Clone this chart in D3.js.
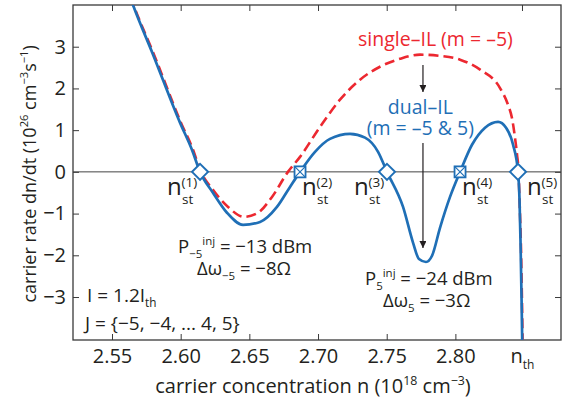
<!DOCTYPE html>
<html>
<head>
<meta charset="utf-8">
<script src="https://cdn.jsdelivr.net/npm/d3@7"></script>
<style>
  body { margin: 0; background: #fff; }
  text { font-family: "Open Sans", sans-serif; fill: #231f20; }
</style>
</head>
<body>
<div class="chart"></div>
<script>
// data
let dualN = [2.5631, 2.5653, 2.5799, 2.5995, 2.6082, 2.6141, 2.6235, 2.6337, 2.6454, 2.6578,
  2.6701, 2.6796, 2.6869, 2.6978, 2.7087, 2.7233, 2.7342, 2.7437, 2.7502, 2.7619, 2.7692,
  2.7735, 2.7786, 2.7830, 2.7888, 2.7961, 2.8034, 2.8121, 2.8216, 2.8311, 2.8369, 2.8420,
  2.8456, 2.8467, 2.8474, 2.8482, 2.8487];
let dualRate = [4.2, 4.0, 2.81, 1.18, 0.53, 0, -0.50, -0.98, -1.27, -1.20,
  -0.84, -0.36, 0, 0.48, 0.79, 0.91, 0.82, 0.48, 0, -0.84, -1.70,
  -2.09, -2.16, -2.01, -1.34, -0.60, 0, 0.65, 1.06, 1.20, 1.06, 0.65,
  0, -0.67, -1.63, -3.07, -4.15];

let singleN = [2.5635, 2.5657, 2.5806, 2.6002, 2.6090, 2.6141, 2.6235, 2.6345, 2.6461, 2.6563,
  2.6665, 2.6781, 2.6869, 2.7015, 2.7160, 2.7306, 2.7451, 2.7597, 2.7743, 2.7888, 2.8034,
  2.8180, 2.8325, 2.8383, 2.8412, 2.8434, 2.8449, 2.8460, 2.8467, 2.8478, 2.8490];
let singleRate = [4.2, 4.0, 2.81, 1.18, 0.53, 0.05, -0.43, -0.84, -1.08, -0.98,
  -0.60, 0, 0.36, 1.08, 1.73, 2.21, 2.52, 2.71, 2.81, 2.78, 2.69,
  2.45, 2.01, 1.61, 1.29, 0.82, 0.41, 0, -0.67, -1.87, -4.15];

let stableN = [2.6141, 2.6869, 2.7502, 2.8034, 2.8456];
let stableKind = ["diamond", "square", "diamond", "square", "diamond"];
let stableSup = ["(1)", "(2)", "(3)", "(4)", "(5)"];

let xTicks = [2.55, 2.60, 2.65, 2.70, 2.75, 2.80];
let nTh = 2.8485;
let yTicks = [-3, -2, -1, 0, 1, 2, 3];

let blue = "#1f6fb6";
let red = "#ec2830";

let svgWidth = 569;
let svgHeight = 406;
let margin = { top: 5, right: 8, bottom: 66, left: 73 };
let width = svgWidth - margin.left - margin.right;
let height = svgHeight - margin.top - margin.bottom;

let svg = d3.select(".chart")
  .append("svg")
  .attr("width", svgWidth)
  .attr("height", svgHeight);

let chartGroup = svg.append("g")
  .attr("transform", `translate(${margin.left}, ${margin.top})`);

let x = d3.scaleLinear().domain([2.5216, 2.8769]).range([0, width]);
let y = d3.scaleLinear().domain([-4.03, 4.0]).range([height, 0]);

// text with sub/superscripts: parts = [[text, kind]], kind 1 = sup, -1 = sub
function rich(sel, size, parts) {
  let cur = 0;
  parts.forEach(([t, k]) => {
    let off = k === 1 ? -0.42 * size : k === -1 ? 0.28 * size : 0;
    let ts = sel.append("tspan").text(t).attr("dy", off - cur);
    if (k) ts.attr("font-size", size * 0.62);
    cur = off;
  });
  return sel;
}

chartGroup.append("clipPath").attr("id", "plotclip")
  .append("rect").attr("width", width).attr("height", height);

// axes (ticks pointing inside)
let bottomAxis = d3.axisBottom(x).tickValues(xTicks.concat([nTh]))
  .tickSizeInner(-6).tickSizeOuter(0).tickPadding(9)
  .tickFormat(d => d === nTh ? "n" : d3.format(".2f")(d));
let topAxis = d3.axisTop(x).tickValues(xTicks.concat([nTh]))
  .tickSizeInner(-6).tickSizeOuter(0).tickFormat("");
let leftAxis = d3.axisLeft(y).tickValues(yTicks)
  .tickSizeInner(-6).tickSizeOuter(0).tickPadding(7);
let rightAxis = d3.axisRight(y).tickValues(yTicks)
  .tickSizeInner(-6).tickSizeOuter(0).tickFormat("");

let gx = chartGroup.append("g").attr("transform", `translate(0, ${height})`).call(bottomAxis);
chartGroup.append("g").call(topAxis);
let gy = chartGroup.append("g").call(leftAxis);
chartGroup.append("g").attr("transform", `translate(${width}, 0)`).call(rightAxis);

chartGroup.selectAll(".domain").remove();
chartGroup.selectAll(".tick line").attr("stroke", "#3a3a3a").attr("stroke-width", 1);
chartGroup.selectAll(".tick text").attr("font-size", 20).attr("fill", "#231f20")
  .attr("font-family", "Open Sans");
gx.selectAll(".tick text").filter(d => d === nTh)
  .append("tspan").attr("font-size", 12).attr("dy", 6).text("th");

// frame and zero line
chartGroup.append("rect").attr("width", width).attr("height", height)
  .attr("fill", "none").attr("stroke", "#3a3a3a").attr("stroke-width", 1.3);
chartGroup.append("line")
  .attr("x1", 0).attr("x2", width).attr("y1", y(0)).attr("y2", y(0))
  .attr("stroke", "#444").attr("stroke-width", 1);

// curves
let line = d3.line().curve(d3.curveMonotoneX).x(d => x(d[0])).y(d => y(d[1]));
let curves = chartGroup.append("g").attr("clip-path", "url(#plotclip)");

curves.append("path")
  .datum(singleN.map((n, i) => [n, singleRate[i]]))
  .attr("d", line)
  .attr("fill", "none").attr("stroke", red)
  .attr("stroke-width", 2.6).attr("stroke-dasharray", "10,5");

curves.append("path")
  .datum(dualN.map((n, i) => [n, dualRate[i]]))
  .attr("d", line)
  .attr("fill", "none").attr("stroke", blue).attr("stroke-width", 2.7);

// stationary points
let marks = chartGroup.selectAll(".stable")
  .data(stableN.map((n, i) => ({ n: n, kind: stableKind[i], sup: stableSup[i] })))
  .enter().append("g")
  .attr("transform", d => `translate(${x(d.n)}, ${y(0)})`);

marks.filter(d => d.kind === "diamond").append("path")
  .attr("d", "M0,-8L8,0L0,8L-8,0Z")
  .attr("fill", "#fff").attr("stroke", blue).attr("stroke-width", 2);
let sq = marks.filter(d => d.kind === "square");
sq.append("rect").attr("x", -5.5).attr("y", -5.5).attr("width", 11).attr("height", 11)
  .attr("fill", "#fff").attr("stroke", blue).attr("stroke-width", 1.8);
sq.append("path").attr("d", "M-5,-5L5,5M5,-5L-5,5")
  .attr("stroke", blue).attr("stroke-width", 1.2);

// n_st labels
let labelOffset = [-33, 2, -33, 2, 9];
marks.each(function(d, i) {
  let g = d3.select(this);
  let lx = labelOffset[i];
  g.append("text").attr("x", lx).attr("y", 23).attr("font-size", 24).text("n");
  g.append("text").attr("x", lx + 14.5).attr("y", 15).attr("font-size", 13.5).text(d.sup);
  g.append("text").attr("x", lx + 15).attr("y", 32).attr("font-size", 13.5).text("st");
});

// axis titles
rich(chartGroup.append("text")
  .attr("text-anchor", "middle")
  .attr("x", width / 2 - 4).attr("y", height + 53)
  .attr("font-size", 20), 20,
  [["carrier concentration n (10", 0], ["18", 1], [" cm", 0], ["−3", 1], [")", 0]]);

rich(chartGroup.append("text")
  .attr("text-anchor", "middle")
  .attr("transform", `translate(${-37}, ${y(0) + 2}) rotate(-90)`)
  .attr("font-size", 18), 18,
  [["carrier rate dn/dt  (10", 0], ["26", 1], [" cm", 0], ["−3", 1], ["s", 0], ["−1", 1], [")", 0]]);

// legend-like labels
chartGroup.append("text").attr("text-anchor", "middle")
  .attr("x", x(2.7855)).attr("y", 41).attr("font-size", 19.5)
  .style("fill", red).text("single–IL (m = –5)");
chartGroup.append("text").attr("text-anchor", "middle")
  .attr("x", x(2.7745)).attr("y", 109).attr("font-size", 19.5)
  .style("fill", blue).text("dual–IL");
chartGroup.append("text").attr("text-anchor", "middle")
  .attr("x", x(2.7745)).attr("y", 130).attr("font-size", 19.5)
  .style("fill", blue).text("(m = –5 & 5)");

// arrows
let defs = svg.append("defs");
defs.append("marker").attr("id", "arr")
  .attr("viewBox", "0 0 10 10").attr("refX", 10).attr("refY", 5)
  .attr("markerWidth", 7).attr("markerHeight", 7).attr("orient", "auto")
  .attr("markerUnits", "userSpaceOnUse")
  .append("path").attr("d", "M0,0L10,5L0,10Z").attr("fill", "#231f20");

[[60, 87], [138, 243]].forEach(([a, b]) => {
  chartGroup.append("line")
    .attr("x1", x(2.7764)).attr("x2", x(2.7764)).attr("y1", a).attr("y2", b)
    .attr("stroke", "#231f20").attr("stroke-width", 1.2)
    .attr("marker-end", "url(#arr)");
});

// injection annotations
rich(chartGroup.append("text").attr("x", 105).attr("y", 248).attr("font-size", 18.5), 18.5,
  [["P", 0], ["−5", -1], ["inj", 1], [" = −13 dBm", 0]]);
rich(chartGroup.append("text").attr("x", 124).attr("y", 270).attr("font-size", 18.5), 18.5,
  [["Δω", 0], ["−5", -1], [" = −8Ω", 0]]);
rich(chartGroup.append("text").attr("x", 292).attr("y", 280).attr("font-size", 18.5), 18.5,
  [["P", 0], ["5", -1], ["inj", 1], [" = −24 dBm", 0]]);
rich(chartGroup.append("text").attr("x", 310).attr("y", 302).attr("font-size", 18.5), 18.5,
  [["Δω", 0], ["5", -1], [" = −3Ω", 0]]);

rich(chartGroup.append("text").attr("x", 14).attr("y", 297).attr("font-size", 19), 19,
  [["I = 1.2I", 0], ["th", -1]]);
chartGroup.append("text").attr("x", 12).attr("y", 325).attr("font-size", 19)
  .text("J = {−5, −4, ... 4, 5}");
</script>
</body>
</html>
